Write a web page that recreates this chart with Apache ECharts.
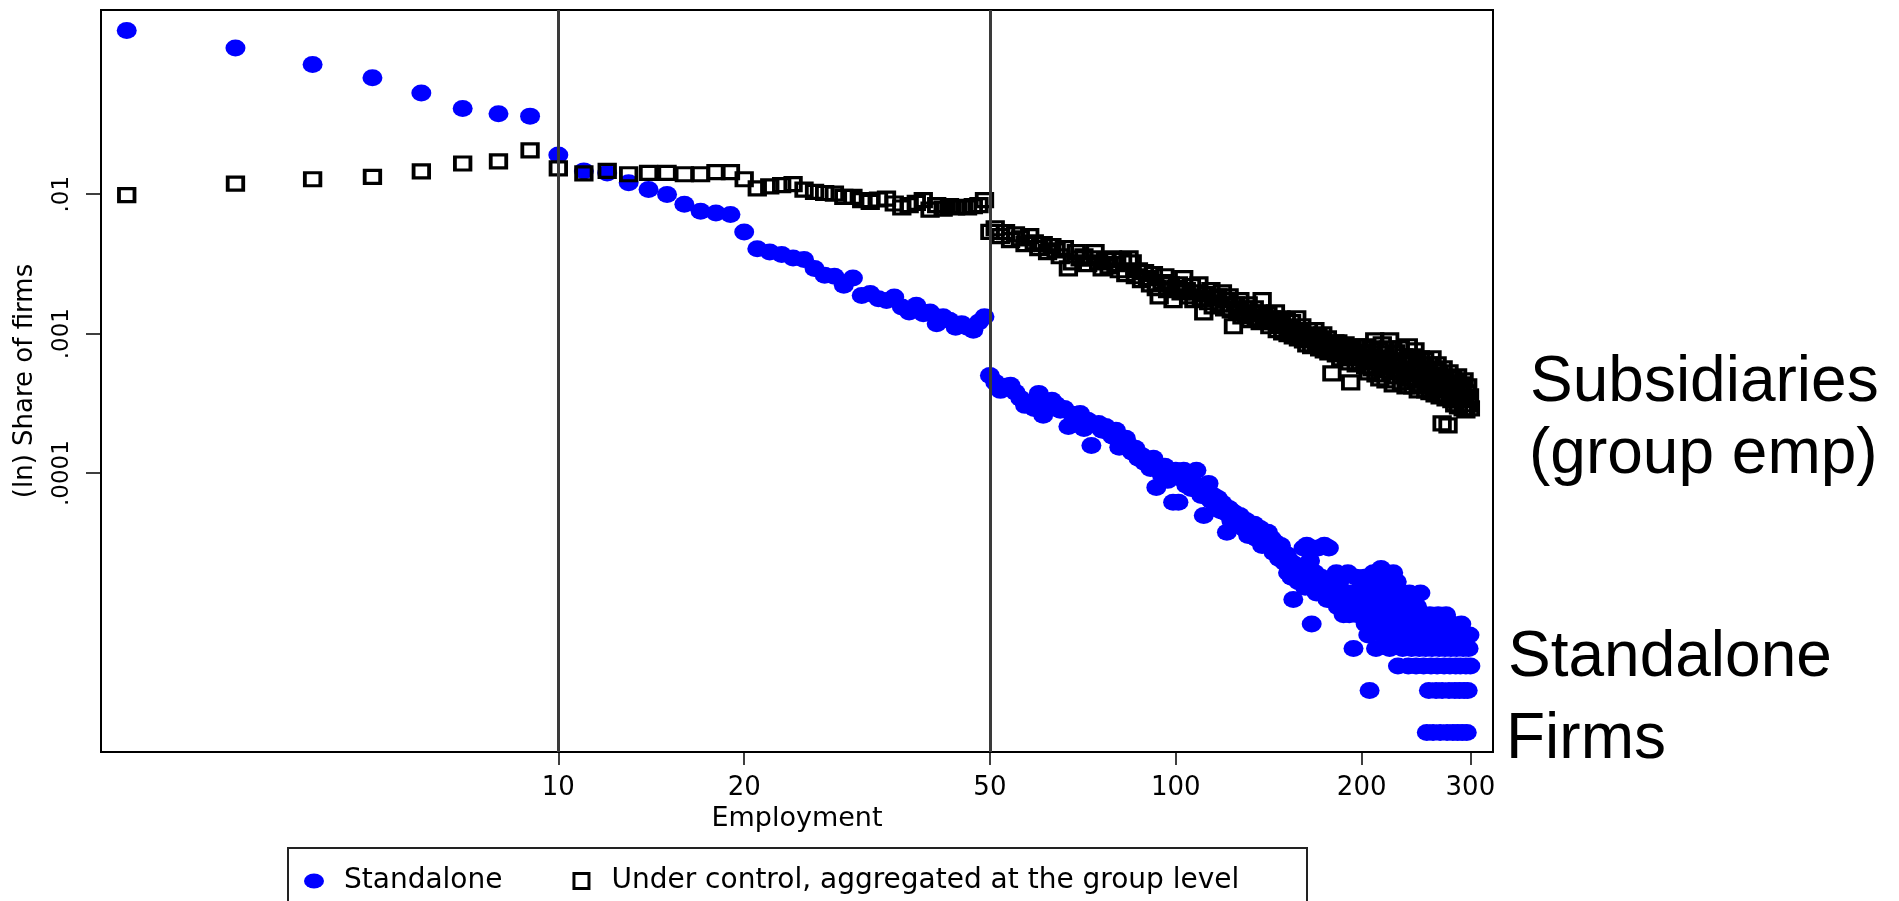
<!DOCTYPE html>
<html><head><meta charset="utf-8">
<script src="https://cdn.jsdelivr.net/npm/echarts@6/dist/echarts.min.js"></script>
<style>html,body{margin:0;padding:0;background:#fff;}#chart{width:1899px;height:901px;}</style>
</head><body><div id="chart"></div>
<script>
// ---------------- data ----------------
const employment = [
 2,3,4,5,6,7,8,9,10,
 11,12,13,14,15,16,17,18,19,20,21,22,23,24,25,26,27,28,29,30,
 31,32,33,34,35,36,37,38,39,40,41,42,43,44,45,46,47,48,49,50,
 51,52,53,54,55,56,57,58,59,60,61,62,63,64,65,66,67,68,69,70,
 71,72,73,74,75,76,77,78,79,80,81,82,83,84,85,86,87,88,89,90,
 91,92,93,94,95,96,97,98,99,100,101,102,103,104,105,106,107,108,109,110,
 111,112,113,114,115,116,117,118,119,120,121,122,123,124,125,126,127,128,129,130,
 131,132,133,134,135,136,137,138,139,140,141,142,143,144,145,146,147,148,149,150,
 151,152,153,154,155,156,157,158,159,160,161,162,163,164,165,166,167,168,169,170,
 171,172,173,174,175,176,177,178,179,180,181,182,183,184,185,186,187,188,189,190,
 191,192,193,194,195,196,197,198,199,200,201,202,203,204,205,206,207,208,209,210,
 211,212,213,214,215,216,217,218,219,220,221,222,223,224,225,226,227,228,229,230,
 231,232,233,234,235,236,237,238,239,240,241,242,243,244,245,246,247,248,249,250,
 251,252,253,254,255,256,257,258,259,260,261,262,263,264,265,266,267,268,269,270,
 271,272,273,274,275,276,277,278,279,280,281,282,283,284,285,286,287,288,289,290,
 291,292,293,294,295,296,297,298,299,300
];
const standalone = [
 1.49e-1,1.12e-1,8.53e-2,6.84e-2,5.31e-2,4.12e-2,3.77e-2,3.63e-2,1.91e-2,
 1.47e-2,1.42e-2,1.21e-2,1.08e-2,9.95e-3,8.48e-3,7.55e-3,7.34e-3,7.15e-3,5.36e-3,
 4.07e-3,3.85e-3,3.69e-3,3.49e-3,3.40e-3,2.93e-3,2.62e-3,2.58e-3,2.22e-3,2.51e-3,
 1.88e-3,1.94e-3,1.78e-3,1.73e-3,1.83e-3,1.55e-3,1.43e-3,1.60e-3,1.39e-3,1.43e-3,
 1.18e-3,1.32e-3,1.25e-3,1.11e-3,1.18e-3,1.11e-3,1.06e-3,1.21e-3,1.32e-3,5.02e-4,
 4.48e-4,3.92e-4,4.19e-4,4.26e-4,3.80e-4,3.44e-4,3.06e-4,3.22e-4,2.91e-4,3.73e-4,
 2.60e-4,3.06e-4,3.33e-4,3.11e-4,2.82e-4,2.91e-4,2.16e-4,2.64e-4,2.47e-4,2.68e-4,
 2.09e-4,2.39e-4,1.58e-4,2.20e-4,2.27e-4,2.03e-4,2.16e-4,1.96e-4,1.84e-4,2.03e-4,
 1.53e-4,1.72e-4,1.78e-4,1.58e-4,1.41e-4,1.51e-4,1.28e-4,1.34e-4,1.19e-4,1.23e-4,
 1.08e-4,1.28e-4,7.90e-5,1.05e-4,9.63e-5,1.12e-4,8.87e-5,9.17e-5,6.17e-5,1.05e-4,
 6.17e-5,9.17e-5,1.05e-4,8.17e-5,1.01e-4,7.77e-5,8.44e-5,1.05e-4,7.52e-5,6.92e-5,
 4.97e-5,7.52e-5,8.44e-5,6.37e-5,6.92e-5,5.87e-5,6.59e-5,5.40e-5,6.07e-5,5.23e-5,
 3.76e-5,5.58e-5,4.58e-5,5.23e-5,4.73e-5,4.22e-5,4.97e-5,4.43e-5,4.01e-5,4.58e-5,
 3.57e-5,4.15e-5,3.88e-5,4.29e-5,3.40e-5,3.76e-5,4.01e-5,3.03e-5,3.57e-5,3.29e-5,
 3.76e-5,2.98e-5,3.40e-5,2.70e-5,3.18e-5,2.88e-5,2.44e-5,3.03e-5,2.57e-5,2.29e-5,
 2.62e-5,1.93e-5,2.35e-5,1.79e-5,1.24e-5,2.21e-5,1.93e-5,1.66e-5,2.07e-5,1.79e-5,
 2.90e-5,1.52e-5,3.04e-5,1.79e-5,2.35e-5,8.28e-6,1.66e-5,1.93e-5,1.38e-5,2.90e-5,
 1.52e-5,1.79e-5,1.38e-5,3.04e-5,1.66e-5,1.24e-5,2.90e-5,1.52e-5,1.24e-5,1.79e-5,
 1.38e-5,1.93e-5,1.10e-5,1.52e-5,1.24e-5,1.79e-5,9.66e-6,1.38e-5,1.24e-5,1.93e-5,
 9.66e-6,1.38e-5,1.10e-5,5.52e-6,1.24e-5,1.79e-5,9.66e-6,1.10e-5,1.38e-5,1.66e-5,
 1.24e-5,1.79e-5,8.28e-6,1.52e-5,6.90e-6,2.76e-6,1.10e-5,1.38e-5,1.93e-5,9.66e-6,
 5.52e-6,1.66e-5,1.24e-5,8.28e-6,2.07e-5,1.10e-5,6.90e-6,1.52e-5,9.66e-6,1.38e-5,
 1.79e-5,5.52e-6,1.24e-5,8.28e-6,1.93e-5,1.10e-5,6.90e-6,1.66e-5,4.14e-6,1.24e-5,
 9.66e-6,1.38e-5,5.52e-6,8.28e-6,1.24e-5,6.90e-6,1.10e-5,4.14e-6,1.38e-5,9.66e-6,
 5.52e-6,8.28e-6,1.24e-5,6.90e-6,4.14e-6,1.10e-5,8.28e-6,5.52e-6,1.38e-5,6.90e-6,
 9.66e-6,4.14e-6,8.28e-6,5.52e-6,1.38e-6,6.90e-6,2.76e-6,9.66e-6,4.14e-6,5.52e-6,
 1.38e-6,8.28e-6,6.90e-6,2.76e-6,4.14e-6,9.66e-6,5.52e-6,1.38e-6,6.90e-6,2.76e-6,
 8.28e-6,4.14e-6,5.52e-6,9.66e-6,1.38e-6,6.90e-6,2.76e-6,4.14e-6,5.52e-6,8.28e-6,
 1.38e-6,6.90e-6,2.76e-6,4.14e-6,5.52e-6,1.38e-6,6.90e-6,2.76e-6,4.14e-6,8.28e-6,
 1.38e-6,5.52e-6,2.76e-6,6.90e-6,4.14e-6,1.38e-6,2.76e-6,5.52e-6,6.90e-6,4.14e-6
];
const groupAggregated = [
 9.84e-3,1.19e-2,1.28e-2,1.33e-2,1.46e-2,1.66e-2,1.72e-2,2.06e-2,1.53e-2,
 1.41e-2,1.47e-2,1.39e-2,1.42e-2,1.42e-2,1.39e-2,1.39e-2,1.44e-2,1.44e-2,1.28e-2,
 1.10e-2,1.14e-2,1.16e-2,1.18e-2,1.08e-2,1.04e-2,1.02e-2,1.01e-2,9.57e-3,9.57e-3,
 9.06e-3,8.81e-3,9.16e-3,9.31e-3,8.58e-3,8.03e-3,8.34e-3,8.67e-3,9.06e-3,7.76e-3,
 8.34e-3,7.89e-3,8.20e-3,8.03e-3,8.11e-3,8.03e-3,8.20e-3,8.34e-3,9.06e-3,5.36e-3,
 5.70e-3,5.00e-3,5.34e-3,4.68e-3,5.16e-3,4.83e-3,4.38e-3,5.00e-3,4.52e-3,4.10e-3,
 4.38e-3,3.84e-3,4.24e-3,3.96e-3,3.59e-3,4.10e-3,2.94e-3,3.25e-3,3.84e-3,3.47e-3,
 3.59e-3,3.15e-3,3.47e-3,3.84e-3,3.25e-3,2.94e-3,3.36e-3,3.04e-3,3.47e-3,3.15e-3,
 2.85e-3,3.36e-3,2.67e-3,3.47e-3,3.25e-3,2.58e-3,2.85e-3,2.42e-3,2.76e-3,2.50e-3,
 2.26e-3,2.67e-3,2.12e-3,1.85e-3,2.34e-3,2.58e-3,2.05e-3,2.26e-3,1.74e-3,2.12e-3,
 2.26e-3,1.98e-3,2.50e-3,2.05e-3,1.85e-3,2.19e-3,1.74e-3,1.98e-3,2.26e-3,1.79e-3,
 1.42e-3,1.92e-3,1.68e-3,2.05e-3,1.57e-3,1.79e-3,1.85e-3,1.62e-3,1.98e-3,1.52e-3,
 1.74e-3,1.85e-3,1.47e-3,1.13e-3,1.62e-3,1.42e-3,1.74e-3,1.33e-3,1.52e-3,1.38e-3,
 1.62e-3,1.25e-3,1.42e-3,1.52e-3,1.29e-3,1.42e-3,1.21e-3,1.74e-3,1.33e-3,1.25e-3,
 1.38e-3,1.13e-3,1.29e-3,1.21e-3,1.42e-3,1.06e-3,1.17e-3,1.29e-3,1.02e-3,1.13e-3,
 1.25e-3,9.90e-4,1.09e-3,1.21e-3,9.57e-4,1.06e-3,1.29e-3,9.26e-4,1.02e-3,1.13e-3,
 8.96e-4,9.90e-4,8.39e-4,1.06e-3,9.26e-4,8.12e-4,9.57e-4,1.06e-3,8.67e-4,9.57e-4,
 7.85e-4,8.96e-4,9.90e-4,7.60e-4,8.39e-4,9.26e-4,7.35e-4,8.12e-4,5.19e-4,7.85e-4,
 8.67e-4,7.11e-4,8.67e-4,7.60e-4,6.66e-4,8.12e-4,7.35e-4,8.39e-4,6.88e-4,7.60e-4,
 6.23e-4,4.48e-4,7.85e-4,6.66e-4,7.35e-4,6.03e-4,8.12e-4,6.88e-4,6.23e-4,7.35e-4,
 6.66e-4,8.12e-4,5.83e-4,7.35e-4,5.28e-4,6.44e-4,7.85e-4,5.64e-4,6.88e-4,8.96e-4,
 5.11e-4,6.23e-4,7.60e-4,4.78e-4,6.03e-4,8.39e-4,5.46e-4,6.66e-4,4.63e-4,6.23e-4,
 7.85e-4,8.96e-4,5.28e-4,6.44e-4,4.33e-4,5.83e-4,7.35e-4,4.94e-4,6.23e-4,5.46e-4,
 7.85e-4,4.48e-4,6.03e-4,6.88e-4,5.11e-4,4.19e-4,6.44e-4,8.12e-4,4.78e-4,5.64e-4,
 6.88e-4,4.19e-4,5.28e-4,7.60e-4,4.63e-4,6.03e-4,3.92e-4,5.46e-4,6.66e-4,4.33e-4,
 5.64e-4,4.94e-4,6.44e-4,3.92e-4,5.28e-4,4.63e-4,6.03e-4,3.80e-4,4.94e-4,6.66e-4,
 4.19e-4,5.46e-4,3.67e-4,4.78e-4,6.03e-4,4.06e-4,5.11e-4,3.55e-4,4.48e-4,2.27e-4,
 5.64e-4,3.92e-4,4.78e-4,3.44e-4,4.33e-4,2.20e-4,5.28e-4,3.67e-4,4.19e-4,3.33e-4,
 4.78e-4,3.80e-4,3.11e-4,4.48e-4,3.55e-4,4.94e-4,3.01e-4,3.92e-4,4.33e-4,3.33e-4,
 4.06e-4,2.91e-4,4.63e-4,3.44e-4,2.82e-4,3.80e-4,4.19e-4,3.11e-4,3.55e-4,2.91e-4
];
const xTickValues = [10, 20, 50, 100, 200, 300];
const xTickLabels = ['10', '20', '50', '100', '200', '300'];
const yTickValues = [0.01, 0.001, 0.0001];
const yTickLabels = ['.01', '.001', '.0001'];
const thresholdLines = [10, 50];
const seriesNames = ['Standalone', 'Under control, aggregated at the group level'];
const xTitle = 'Employment';
const yTitle = '(ln) Share of firms';
const noteSubsidiaries = ['Subsidiaries', '(group emp)'];
const noteStandalone = ['Standalone', 'Firms'];

// ---------------- chart ----------------
const FONT = 'DejaVu Sans';
const ellipse = 'path://M0,-1A1,1,0,1,1,0,1A1,1,0,1,1,0,-1Z';
function tickFormatter(values, labels) {
  return function (v) {
    for (let i = 0; i < values.length; i++) {
      if (Math.abs(Math.log10(v) - Math.log10(values[i])) < 0.004) return labels[i];
    }
    return '';
  };
}
const chart = echarts.init(document.getElementById('chart'), null, {renderer: 'canvas', width: 1899, height: 901});
const option = {
  animation: false,
  backgroundColor: '#ffffff',
  textStyle: {fontFamily: FONT, color: '#000'},
  grid: {left: 101, right: 406, top: 10, bottom: 149, show: true, borderColor: '#000', borderWidth: 2,
         backgroundColor: '#fff', containLabel: false, outerBoundsMode: 'none'},
  xAxis: {
    type: 'log', logBase: 10, min: 1.817, max: 326.4,
    axisLine: {show: true, onZero: false, lineStyle: {color: '#000', width: 2}},
    axisTick: {show: true, customValues: xTickValues, length: 13, inside: false, lineStyle: {color: '#000', width: 1.5}},
    axisLabel: {show: true, customValues: xTickValues, formatter: tickFormatter(xTickValues, xTickLabels),
                margin: 23, fontSize: 26, color: '#000', fontFamily: FONT},
    minorTick: {show: false}, splitLine: {show: false}, minorSplitLine: {show: false},
    name: xTitle, nameLocation: 'middle', nameGap: 50,
    nameTextStyle: {fontSize: 27, color: '#000', fontFamily: FONT}
  },
  yAxis: {
    type: 'log', logBase: 10, min: 1e-6, max: 0.2094,
    axisLine: {show: true, onZero: false, lineStyle: {color: '#000', width: 2}},
    axisTick: {show: true, customValues: yTickValues, length: 15, inside: false, lineStyle: {color: '#000', width: 1.5}},
    axisLabel: {show: true, customValues: yTickValues, formatter: tickFormatter(yTickValues, yTickLabels),
                rotate: 90, margin: 27, fontSize: 23, color: '#000', fontFamily: FONT},
    minorTick: {show: false}, splitLine: {show: false}, minorSplitLine: {show: false},
    name: yTitle, nameLocation: 'middle', nameGap: 63, nameRotate: 90,
    nameTextStyle: {fontSize: 26, color: '#000', fontFamily: FONT}
  },
  legend: {
    show: true, left: 304, top: 867, orient: 'horizontal', padding: 0,
    itemWidth: 50, itemHeight: 15, itemGap: 70, symbolKeepAspect: true, selectedMode: false,
    textStyle: {fontSize: 28, color: '#000', fontFamily: FONT},
    data: [
      {name: seriesNames[0], icon: 'path://M0,-3A4,3,0,1,1,0,3A4,3,0,1,1,0,-3Z', itemStyle: {color: '#0000ff', borderWidth: 0}},
      {name: seriesNames[1], icon: 'path://M0,0H10V10H0Z', itemStyle: {color: 'rgba(0,0,0,0)', borderColor: '#000', borderWidth: 3}}
    ]
  },
  graphic: [
    {type: 'rect', silent: true, z: -1, shape: {x: 288, y: 848, width: 1019, height: 100},
     style: {fill: 'none', stroke: '#222', lineWidth: 2}},
    {type: 'text', silent: true, x: 1530, y: 383, style: {text: noteSubsidiaries[0], fontSize: 64, fontFamily: 'Liberation Sans', fill: '#000', align: 'left', verticalAlign: 'middle'}},
    {type: 'text', silent: true, x: 1529, y: 455, style: {text: noteSubsidiaries[1], fontSize: 64, fontFamily: 'Liberation Sans', fill: '#000', align: 'left', verticalAlign: 'middle'}},
    {type: 'text', silent: true, x: 1508, y: 658, style: {text: noteStandalone[0], fontSize: 64, fontFamily: 'Liberation Sans', fill: '#000', align: 'left', verticalAlign: 'middle'}},
    {type: 'text', silent: true, x: 1506, y: 740, style: {text: noteStandalone[1], fontSize: 64, fontFamily: 'Liberation Sans', fill: '#000', align: 'left', verticalAlign: 'middle'}}
  ],
  series: [
    {type: 'line', name: 'thresholds', data: [], z: 1, silent: true,
     markLine: {silent: true, symbol: ['none', 'none'], label: {show: false},
                lineStyle: {color: '#3a3a3a', width: 3, type: 'solid'},
                emphasis: {disabled: true},
                data: thresholdLines.map(function (v) { return {xAxis: v}; })}},
    {type: 'scatter', name: seriesNames[0], z: 2,
     data: employment.map(function (e, i) { return [e, standalone[i]]; }),
     symbol: ellipse, symbolSize: [20, 17], itemStyle: {color: '#0000ff', opacity: 1},
     emphasis: {disabled: true}},
    {type: 'scatter', name: seriesNames[1], z: 3,
     data: employment.map(function (e, i) { return [e, groupAggregated[i]]; }),
     symbol: 'rect', symbolSize: [15.5, 13],
     itemStyle: {color: 'rgba(0,0,0,0)', borderColor: '#000', borderWidth: 3.5, opacity: 1},
     emphasis: {disabled: true}}
  ]
};
chart.setOption(option);
</script>
</body></html>
